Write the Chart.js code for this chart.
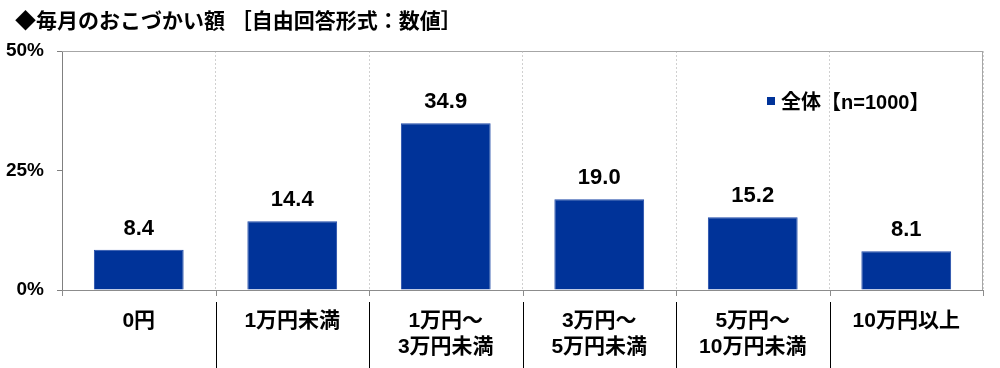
<!DOCTYPE html>
<html>
<head>
<meta charset="utf-8">
<script src="https://cdn.jsdelivr.net/npm/chart.js@4"></script>
<style>
  body { margin: 0; background: #fff; }
  #wrap { position: relative; width: 1000px; height: 368px; }
  #title {
    position: absolute; left: 15px; top: 4px;
    font: bold 21px "Liberation Sans", "Noto Sans CJK JP", sans-serif;
    color: #000; white-space: nowrap;
  }
  #legend {
    position: absolute; left: 767px; top: 86px;
    font: bold 20px "Liberation Sans", "Noto Sans CJK JP", sans-serif;
    color: #000; white-space: nowrap;
  }
  #legend span.box {
    display: inline-block; width: 8px; height: 8px; background: #003399;
    margin-right: 6px; vertical-align: 4px;
  }
</style>
</head>
<body>
<div id="wrap">
  <canvas id="chart" width="1000" height="368"></canvas>
  <div id="title">◆毎月のおこづかい額 ［自由回答形式：数値］</div>
  <div id="legend"></div>
</div>
<script>
// data
const categories = [["0円"], ["1万円未満"], ["1万円～", "3万円未満"], ["3万円～", "5万円未満"], ["5万円～", "10万円未満"], ["10万円以上"]];
const values = [8.4, 14.4, 34.9, 19.0, 15.2, 8.1];
const series_name = "全体【n=1000】";
const y_ticks = [0, 25, 50];

const FONT = "'Liberation Sans', 'Noto Sans CJK JP', sans-serif";
const BAR_COLOR = "#003399";

document.getElementById("legend").innerHTML = '<span class="box"></span>' + series_name;

// value labels + frame lines, ticks and separators under the axis
const extras = {
    id: "extras",
    afterDatasetsDraw(chart) {
        const ctx = chart.ctx;
        const area = chart.chartArea;
        const x = chart.scales.x;

        ctx.save();
        // top and right frame
        ctx.strokeStyle = "#a6a6a6";
        ctx.lineWidth = 1;
        ctx.beginPath();
        ctx.moveTo(area.left, area.top + 0.5);
        ctx.lineTo(area.right, area.top + 0.5);
        ctx.moveTo(area.right - 0.5, area.top);
        ctx.lineTo(area.right - 0.5, area.bottom);
        ctx.stroke();

        // boundaries between categories
        const n = chart.data.labels.length;
        const step = x.getPixelForValue(1) - x.getPixelForValue(0);
        const bounds = [];
        for (let i = 0; i <= n; i++) {
            bounds.push(i < n ? x.getPixelForValue(i) - step / 2 : area.right);
        }
        ctx.strokeStyle = "#8c8c8c";
        ctx.beginPath();
        bounds.forEach(b => {
            const px = Math.round(b) + 0.5;
            ctx.moveTo(px, area.bottom);
            ctx.lineTo(px, area.bottom + 6);
        });
        ctx.stroke();

        ctx.strokeStyle = "#000";
        ctx.beginPath();
        bounds.slice(1, -1).forEach(b => {
            const px = Math.round(b) + 0.5;
            ctx.moveTo(px, area.bottom + 12);
            ctx.lineTo(px, chart.height);
        });
        ctx.stroke();

        // value labels
        ctx.fillStyle = "#000";
        ctx.font = "bold 22px " + FONT;
        ctx.textAlign = "center";
        ctx.textBaseline = "alphabetic";
        chart.getDatasetMeta(0).data.forEach((bar, i) => {
            ctx.fillText(values[i].toFixed(1), bar.x, bar.y - 15);
        });
        ctx.restore();
    }
};

new Chart(document.getElementById("chart"), {
    type: "bar",
    data: {
        labels: categories,
        datasets: [{
            label: series_name,
            data: values,
            backgroundColor: BAR_COLOR,
            borderColor: "#1f4aa8",
            borderWidth: 1,
            categoryPercentage: 1,
            barPercentage: 0.585
        }]
    },
    plugins: [extras],
    options: {
        responsive: false,
        animation: false,
        layout: { padding: { left: 0, right: 17, top: 51, bottom: 0 } },
        plugins: {
            legend: { display: false },
            tooltip: { enabled: false }
        },
        scales: {
            x: {
                offset: true,
                grid: {
                    offset: true,
                    color: "#d0d0d0",
                    drawTicks: false
                },
                border: { color: "#8c8c8c", dash: [2, 2] },
                ticks: {
                    color: "#000",
                    font: { family: FONT, size: 21, weight: "bold", lineHeight: 1.25 },
                    padding: 18,
                    maxRotation: 0,
                    autoSkip: false
                },
                afterFit: s => { s.height = 78; }
            },
            y: {
                min: 0,
                max: 50,
                afterBuildTicks: s => { s.ticks = y_ticks.map(v => ({ value: v })); },
                grid: {
                    drawOnChartArea: false,
                    color: "#808080",
                    tickLength: 5
                },
                border: { color: "#808080" },
                ticks: {
                    color: "#000",
                    font: { family: FONT, size: 19, weight: "bold" },
                    padding: 13,
                    callback: v => v + "%"
                },
                afterFit: s => { s.width = 62; }
            }
        }
    }
});
</script>
</body>
</html>
